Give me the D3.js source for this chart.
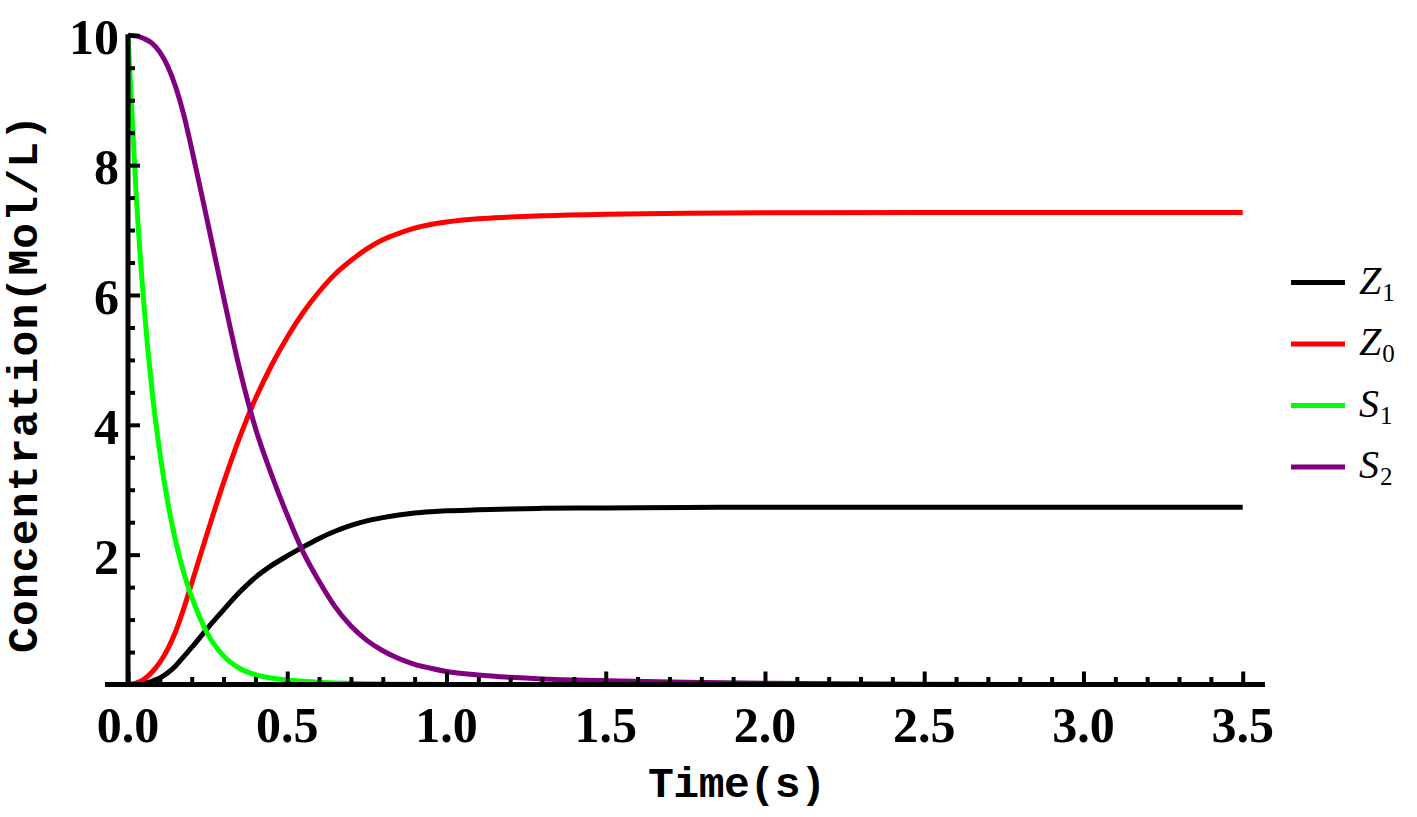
<!DOCTYPE html>
<html>
<head>
<meta charset="utf-8">
<script src="https://cdn.jsdelivr.net/npm/d3@7"></script>
<style>
  body { margin: 0; background: #fff; }
  svg { display: block; }
</style>
</head>
<body>
<div id="chart"></div>
<script>
// values, Mol/L against seconds
var times = [0, 0.025, 0.05, 0.075, 0.1, 0.125, 0.15, 0.175, 0.2, 0.25, 0.3, 0.35, 0.4, 0.45,
             0.5, 0.55, 0.6, 0.65, 0.7, 0.75, 0.8, 0.85, 0.9, 0.95, 1.0, 1.1, 1.2, 1.3, 1.5,
             1.75, 2.0, 2.5, 3.0, 3.5];

var z1Values = [0, 0.005, 0.02, 0.05, 0.1, 0.18, 0.29, 0.43, 0.57, 0.87, 1.15, 1.42, 1.65, 1.83,
                1.98, 2.12, 2.25, 2.36, 2.45, 2.52, 2.57, 2.61, 2.64, 2.66, 2.675, 2.69, 2.705, 2.713, 2.72,
                2.727, 2.73, 2.73, 2.73, 2.73];

var z0Values = [0, 0.02, 0.08, 0.19, 0.34, 0.55, 0.82, 1.17, 1.56, 2.35, 3.11, 3.8, 4.4, 4.91,
                5.35, 5.73, 6.05, 6.32, 6.53, 6.71, 6.85, 6.95, 7.03, 7.085, 7.125, 7.175, 7.2, 7.22, 7.245,
                7.26, 7.265, 7.27, 7.27, 7.27];

var s1Values = [10, 7.6, 5.85, 4.55, 3.57, 2.8, 2.2, 1.72, 1.35, 0.78, 0.44, 0.25, 0.15, 0.1,
                0.07, 0.05, 0.035, 0.025, 0.018, 0.012, 0.008, 0.005, 0.003, 0.002, 0.001, 0, 0, 0, 0,
                0, 0, 0, 0, 0];

var s2Values = [10, 9.99, 9.95, 9.88, 9.74, 9.52, 9.2, 8.78, 8.25, 7.12, 5.97, 4.87, 3.95, 3.24,
                2.61, 2.04, 1.59, 1.2, 0.9, 0.68, 0.52, 0.4, 0.31, 0.25, 0.2, 0.145, 0.11, 0.085, 0.06,
                0.035, 0.02, 0.005, 0, 0];

var xTickLabels = ['0.0', '0.5', '1.0', '1.5', '2.0', '2.5', '3.0', '3.5'];
var yTickLabels = ['2', '4', '6', '8', '10'];

var seriesLetters = ['Z', 'Z', 'S', 'S'];
var seriesSubs = ['1', '0', '1', '2'];
var seriesColors = ['#000000', '#ff0000', '#00ff00', '#800080'];

var width = 1417
  , height = 817
  , serif = '"Liberation Serif", "Times New Roman", serif'
  , mono = '"Liberation Mono", "Courier New", monospace'
  , svg
  , x
  , y
  , line
  , series
  , legend
;

svg = d3.select('#chart').append('svg')
  .attr('width', width)
  .attr('height', height)
  .style('background', '#fff');

x = d3.scaleLinear().domain([0, 3.5]).range([128, 1242.7]);
y = d3.scaleLinear().domain([0, 10]).range([684.5, 35.3]);

series = [z1Values, z0Values, s1Values, s2Values];

line = d3.line()
  .x(function (d, i) { return x(times[i]); })
  .y(function (d) { return y(d); })
  .curve(d3.curveMonotoneX);

svg.append('g').selectAll('path')
  .data(series)
  .enter()
    .append('path')
    .attr('d', line)
    .attr('fill', 'none')
    .attr('stroke', function (d, i) { return seriesColors[i]; })
    .attr('stroke-width', 5)
    .attr('stroke-linejoin', 'round');

// ticks point inward, like the original
var xMajor = xTickLabels.map(Number)
  , xMinor = d3.range(0, 36).map(function (i) { return i / 10; })
      .filter(function (v) { return Math.round(v * 10) % 5 !== 0; })
  , yMajor = d3.range(0, 11, 2)
  , yMinor = d3.range(0, 21).map(function (i) { return i / 2; })
      .filter(function (v) { return v % 2 !== 0; });

function tickAxis(axis, values, size, tx, ty) {
  var g = svg.append('g')
    .attr('transform', 'translate(' + tx + ',' + ty + ')')
    .call(axis.tickValues(values).tickSize(size).tickFormat(''));
  g.select('.domain').remove();
  g.selectAll('line').attr('stroke', '#000').attr('stroke-width', 4);
  return g;
}

tickAxis(d3.axisTop(x), xMinor, 7.5, 0, 684.5);
tickAxis(d3.axisTop(x), xMajor, 13, 0, 684.5);
tickAxis(d3.axisRight(y), yMinor, 7, 128, 0);
tickAxis(d3.axisRight(y), yMajor, 12, 128, 0);

// axis lines
svg.append('line')
  .attr('x1', 105).attr('x2', 1265)
  .attr('y1', y(0)).attr('y2', y(0))
  .attr('stroke', '#000').attr('stroke-width', 5);

svg.append('line')
  .attr('x1', x(0)).attr('x2', x(0))
  .attr('y1', y(10) - 1).attr('y2', y(0))
  .attr('stroke', '#000').attr('stroke-width', 5);

// tick labels
svg.append('g').selectAll('text')
  .data(xTickLabels)
  .enter()
    .append('text')
    .attr('x', function (d) { return x(+d); })
    .attr('y', 742)
    .attr('text-anchor', 'middle')
    .style('font-family', serif)
    .style('font-weight', 'bold')
    .style('font-size', '50px')
    .text(function (d) { return d; });

svg.append('g').selectAll('text')
  .data(yTickLabels)
  .enter()
    .append('text')
    .attr('x', 119)
    .attr('y', function (d) { return y(+d) + 19; })
    .attr('text-anchor', 'end')
    .style('font-family', serif)
    .style('font-weight', 'bold')
    .style('font-size', '50px')
    .text(function (d) { return d; });

// axis titles
svg.append('text')
  .attr('x', 737)
  .attr('y', 797)
  .attr('text-anchor', 'middle')
  .attr('textLength', 178)
  .attr('lengthAdjust', 'spacing')
  .style('font-family', mono)
  .style('font-weight', 'bold')
  .style('font-size', '43px')
  .text('Time(s)');

svg.append('text')
  .attr('transform', 'translate(37,384) rotate(-90)')
  .attr('text-anchor', 'middle')
  .attr('textLength', 538)
  .attr('lengthAdjust', 'spacing')
  .style('font-family', mono)
  .style('font-weight', 'bold')
  .style('font-size', '43px')
  .text('Concentration(Mol/L)');

// legend
legend = svg.append('g').selectAll('g')
  .data(seriesLetters)
  .enter()
    .append('g')
    .attr('transform', function (d, i) { return 'translate(1291,' + (282.5 + i * 61.5) + ')'; });

legend.append('line')
  .attr('x1', 0).attr('x2', 54)
  .attr('stroke', function (d, i) { return seriesColors[i]; })
  .attr('stroke-width', 5);

var legendText = legend.append('text')
  .attr('x', 68)
  .attr('y', 11)
  .style('font-family', serif)
  .style('font-size', '40px');

legendText.append('tspan')
  .style('font-style', 'italic')
  .text(function (d) { return d; });

legendText.append('tspan')
  .attr('dy', 7)
  .attr('dx', 1)
  .style('font-size', '25px')
  .text(function (d, i) { return seriesSubs[i]; });
</script>
</body>
</html>
